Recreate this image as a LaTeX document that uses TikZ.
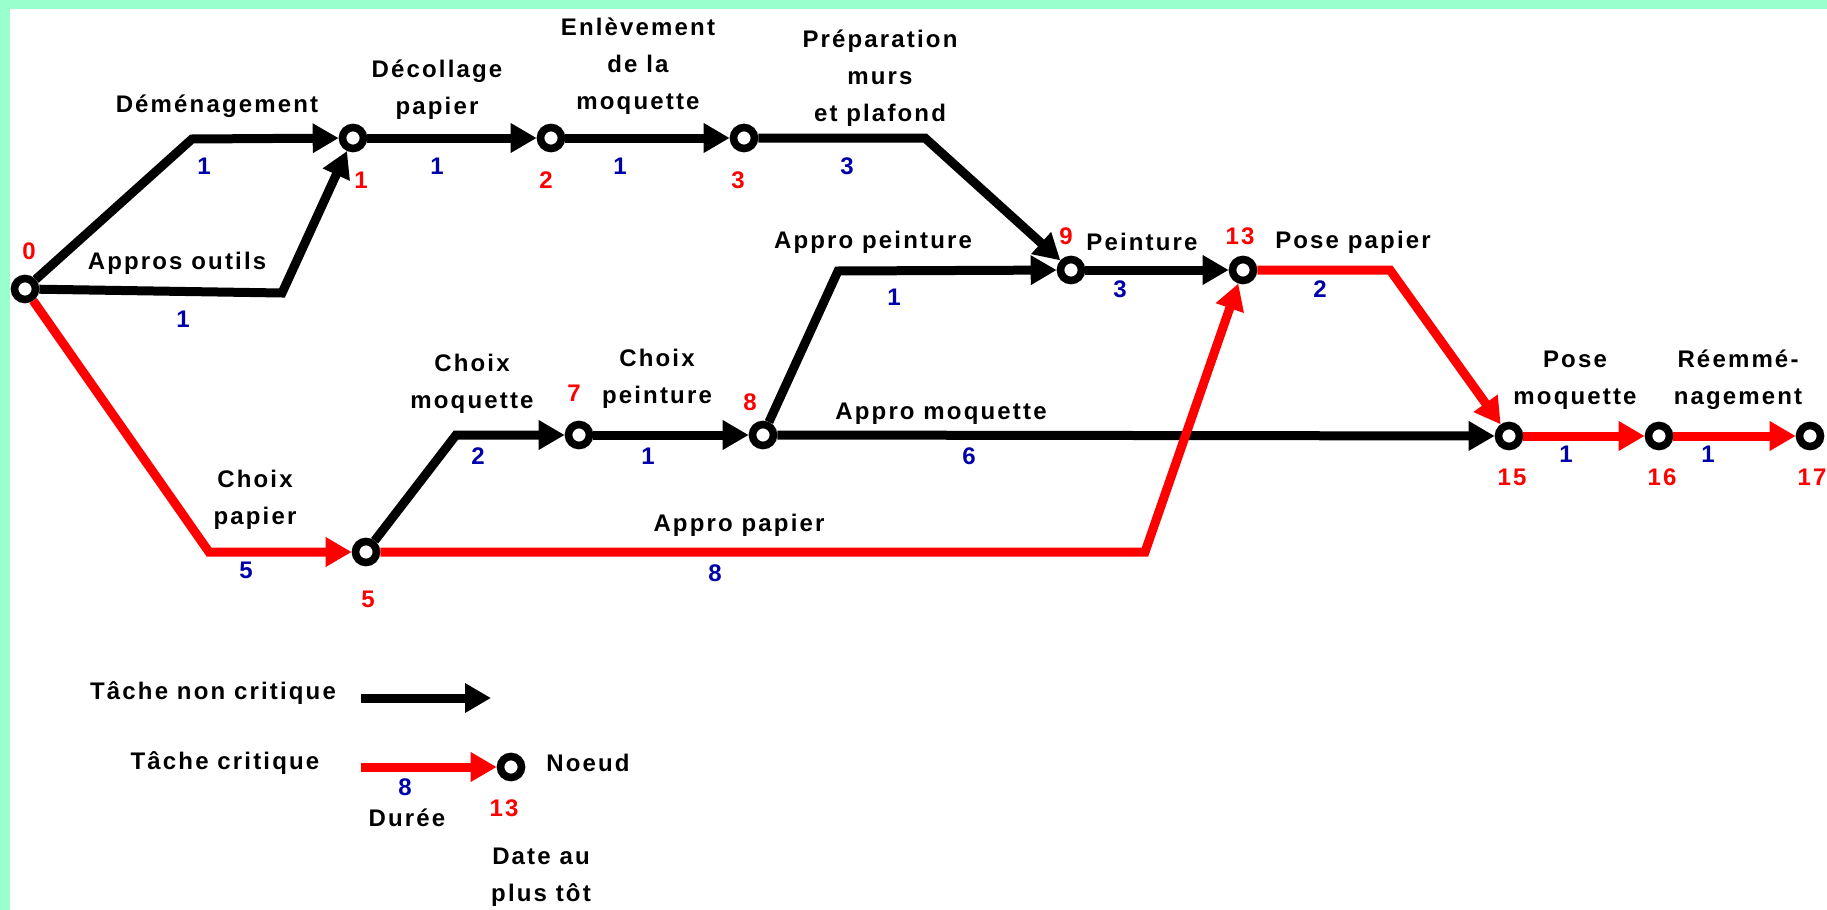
\documentclass[tikz,border=0pt]{standalone}
\usepackage{fontspec}
\setmainfont{Liberation Sans}[LetterSpace=9]
\usetikzlibrary{arrows.meta}
\definecolor{menthe}{RGB}{153,255,204}
\definecolor{bleuduree}{RGB}{0,0,170}
\tikzset{
  tache/.style={line width=4.5pt,-{Triangle[length=13pt,width=14pt]}},
  noncrit/.style={tache,black},
  crit/.style={tache,red},
  noeud/.style={circle,draw=black,fill=white,line width=3.8pt,minimum size=10.5pt,inner sep=0pt},
  txt/.style={font=\fontsize{12}{18.5}\selectfont\bfseries,align=center,inner sep=0pt},
  duree/.style={txt,text=bleuduree},
  date/.style={txt,text=red},
}

\begin{document}
\begin{tikzpicture}[x=0.5pt,y=-0.5pt]
    \useasboundingbox (0,0) rectangle (1827,910);
    \fill[white] (0,0) rectangle (1827,910);
    \fill[menthe] (0,0) rectangle (1827,9);
    \fill[menthe] (0,0) rectangle (10,910);

    % Noeuds du reseau (numero = date au plus tot)
    \foreach \n/\x/\y in {0/25/289, 1/353/138, 2/551/138, 3/744/138, 9/1071/270, 13/1243/270,
                          5/366/552, 7/579/435, 8/763/435, 15/1509/436, 16/1659/436, 17/1810/436}
        \node[noeud] (n\n) at (\x,\y) {};

    % Coudes des taches
    \coordinate (kDem) at (192,139);
    \coordinate (kOut) at (282,293);
    \coordinate (kPrep) at (925,138);
    \coordinate (kPei) at (838,271);
    \coordinate (kMoq) at (456,435);
    \coordinate (kPap) at (209,552);
    \coordinate (kApP) at (1145,552);
    \coordinate (kPose) at (1390,270);

    % Taches non critiques
    \draw[noncrit] (n0) -- (kDem) -- (n1);
    \draw[noncrit] (n0) -- (kOut) -- (n1);
    \draw[noncrit] (n1) -- (n2);
    \draw[noncrit] (n2) -- (n3);
    \draw[noncrit] (n3) -- (kPrep) -- (n9);
    \draw[noncrit] (n8) -- (kPei) -- (n9);
    \draw[noncrit] (n9) -- (n13);
    \draw[noncrit] (n5) -- (kMoq) -- (n7);
    \draw[noncrit] (n7) -- (n8);
    \draw[noncrit] (n8) -- (n15);

    % Chemin critique
    \draw[crit] (n0) -- (kPap) -- (n5);
    \draw[crit] (n5) -- (kApP) -- (n13);
    \draw[crit] (n13) -- (kPose) -- (n15);
    \draw[crit] (n15) -- (n16);
    \draw[crit] (n16) -- (n17);

    % Dates au plus tot
    \foreach \n/\x/\y in {0/29/251, 1/361/180, 2/546/180, 3/738/180, 9/1066/236, 13/1240/236,
                          5/368/599, 7/574/393, 8/750/402, 15/1512/477, 16/1662/477, 17/1812/477}
        \node[date] (d\n) at (\x,\y) {\n};

    % Durees
    \foreach \i/\v/\x/\y in {1/1/204/166, 2/1/183/319, 3/1/437/166, 4/1/620/166, 5/3/847/166,
                             6/1/894/297, 7/3/1120/289, 8/2/1320/289, 9/1/1566/454, 10/1/1708/454,
                             11/5/246/570, 12/2/478/456, 13/1/648/456, 14/6/969/456, 15/8/715/573}
        \node[duree] (u\i) at (\x,\y) {\v};

    % Noms des taches
    \node[txt] (tDem) at (217,106) {Déménagement};
    \node[txt] (tOut) at (177,263) {Appros outils};
    \node[txt] (tDec) at (437,90) {Décollage\\papier};
    \node[txt] (tEnl) at (638,66) {Enlèvement\\de la\\moquette};
    \node[txt] (tPrep) at (880,78) {Préparation\\murs\\et plafond};
    \node[txt] (tPei) at (873,242) {Appro peinture};
    \node[txt] (tPnt) at (1142,242) {Peinture};
    \node[txt] (tPose) at (1353,242) {Pose papier};
    \node[txt] (tPmq) at (1575,380) {Pose\\moquette};
    \node[txt] (tRee) at (1738,380) {Réemmé-\\nagement};
    \node[txt] (tCpa) at (255,500) {Choix\\papier};
    \node[txt] (tCmq) at (472,384) {Choix\\moquette};
    \node[txt] (tCpe) at (657,379) {Choix\\peinture};
    \node[txt] (tAmq) at (941,414) {Appro moquette};
    \node[txt] (tApa) at (739,525) {Appro papier};

    % Legende
    \coordinate (lgA) at (361,698);
    \coordinate (lgB) at (491,698);
    \coordinate (lgC) at (361,767);
    \node[noeud] (nL) at (511,767) {};
    \draw[noncrit] (lgA) -- (lgB);
    \draw[crit] (lgC) -- (nL);
    \node[txt] (lNc) at (213,693) {Tâche non critique};
    \node[txt] (lCr) at (225,763) {Tâche critique};
    \node[txt] (lNd) at (588,763) {Noeud};
    \node[duree] (lDv) at (405,787) {8};
    \node[date] (lDt) at (504,808) {13};
    \node[txt] (lDu) at (407,818) {Durée};
    \node[txt] (lDa) at (541,877) {Date au\\plus tôt};
\end{tikzpicture}
\end{document}
